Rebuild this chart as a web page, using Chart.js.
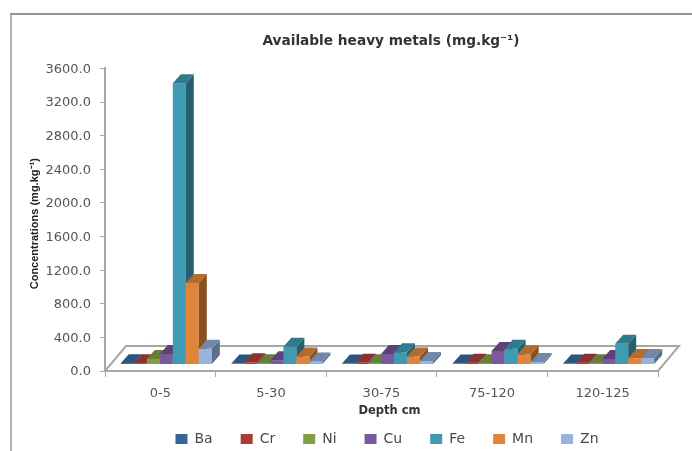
<!DOCTYPE html>
<html>
<head>
<meta charset="utf-8">
<style>
html,body{margin:0;padding:0;background:#fff;}
canvas{display:block;filter:blur(0.45px);}
</style>
<script src="https://cdn.jsdelivr.net/npm/chart.js@4"></script>
</head>
<body>
<canvas id="c" width="692" height="451"></canvas>
<script>
const categories = ['0-5','5-30','30-75','75-120','120-125'];
const Ba = [10,5,5,5,5];
const Cr = [10,20,15,15,15];
const Ni = [60,10,10,10,10];
const Cu = [120,45,120,155,60];
const Fe = [3340,205,140,180,240];
const Mn = [965,90,90,115,70];
const Zn = [180,30,35,25,70];
const yTicks = [0,400,800,1200,1600,2000,2400,2800,3200,3600];
const names = ['Ba','Cr','Ni','Cu','Fe','Mn','Zn'];
const values = [Ba,Cr,Ni,Cu,Fe,Mn,Zn];
const frontColors = ['#33659b','#a83c39','#7f9f42','#7b5a9c','#3f9ab3','#e0843a','#98b4de'];
const topColors   = ['#2b5583','#8a3230','#66803a','#5c4278','#2f7a8e','#b56a2e','#7088aa'];
const sideColors  = ['#1f3f63','#6a2624','#4e6329','#443159','#26606f','#8a5022','#5a6e8a'];

const BAR_DX = 8, BAR_DY = 9;       // extrusion of each bar
const FLOOR_DX = 21, FLOOR_DY = 25; // extrusion of the floor
const SHIFT_X = 6, SHIFT_Y = 7;     // front of bars sits inside the floor
const AXIS = '#a6a6a6';
const LEGEND_PAD = 28;
const SPAN = 3600, PLOT_H = 302, PLOT_W = 553, N = categories.length;

// move an axis title along its axis without moving the axis itself
function shiftTitle(scale, a, b, d) {
  if (scale.$shifted) return;
  scale.$shifted = true;
  const orig = scale.drawTitle;
  scale.drawTitle = function () {
    this[a] += d; this[b] += d;
    orig.call(this);
    this[a] -= d; this[b] -= d;
  };
}

const depthPlugin = {
  id: 'depth',
  afterLayout(chart) {
    const t = chart.titleBlock, l = chart.legend;
    t.left += 62; t.right += 62;
    l.left += 58; l.right += 58;
    l.top = 439 - LEGEND_PAD - 7; l.bottom = l.top + l.height;
    shiftTitle(chart.scales.x, 'left', 'right', 8);
    shiftTitle(chart.scales.y, 'top', 'bottom', 4);
  },
  beforeDraw(chart) {
    const c = chart.ctx;
    c.save();
    c.lineWidth = 2;
    c.strokeStyle = '#b4b4b4';
    c.beginPath(); c.moveTo(11, 14); c.lineTo(11, 451); c.stroke();
    c.strokeStyle = '#959595';
    c.beginPath(); c.moveTo(692, 14); c.lineTo(10, 14); c.stroke();
    c.restore();
  },
  beforeDatasetsDraw(chart) {
    const c = chart.ctx, a = chart.chartArea;
    c.save();
    c.fillStyle = '#fff';
    c.strokeStyle = AXIS;
    c.lineWidth = 2;
    c.beginPath();
    c.moveTo(a.left, a.bottom);
    c.lineTo(a.right, a.bottom);
    c.lineTo(a.right + FLOOR_DX, a.bottom - FLOOR_DY);
    c.lineTo(a.left + FLOOR_DX, a.bottom - FLOOR_DY);
    c.closePath();
    c.fill();
    c.stroke();
    // paint series left to right so that each bar overlaps the side of its neighbour
    names.forEach((n, i) => {
      const meta = chart.getDatasetMeta(i);
      meta.controller.draw();
      meta.data.forEach(b => {
        const p = b.getProps(['x','y','base','width'], true);
        const L = p.x - p.width / 2, R = p.x + p.width / 2;
        c.fillStyle = sideColors[i];
        c.beginPath();
        c.moveTo(R, p.y); c.lineTo(R + BAR_DX, p.y - BAR_DY);
        c.lineTo(R + BAR_DX, p.base - BAR_DY); c.lineTo(R, p.base);
        c.closePath(); c.fill();
        c.fillStyle = topColors[i];
        c.beginPath();
        c.moveTo(L, p.y); c.lineTo(L + BAR_DX, p.y - BAR_DY);
        c.lineTo(R + BAR_DX, p.y - BAR_DY); c.lineTo(R, p.y);
        c.closePath(); c.fill();
      });
    });
    c.restore();
    return false;
  }
};

new Chart(document.getElementById('c'), {
  type: 'bar',
  data: {
    labels: categories,
    datasets: names.map((n, i) => ({
      label: n,
      data: values[i].map((v, k) => ({ x: k, y: v })),
      xAxisID: 'x2',
      yAxisID: 'y2',
      backgroundColor: frontColors[i],
      borderWidth: 0,
      barPercentage: 1,
      categoryPercentage: 0.823
    }))
  },
  options: {
    responsive: false,
    animation: false,
    devicePixelRatio: 1,
    layout: { autoPadding: false, padding: { left: 0, right: 34, top: 0, bottom: -2 } },
    plugins: {
      tooltip: { enabled: false },
      title: {
        display: true,
        text: 'Available heavy metals (mg.kg⁻¹)',
        color: '#333',
        font: { family: 'DejaVu Sans', size: 13.7, weight: 'bold' },
        padding: { top: 33, bottom: 19 }
      },
      legend: {
        display: true,
        position: 'bottom',
        labels: {
          boxWidth: 12,
          boxHeight: 10,
          padding: LEGEND_PAD,
          color: '#4a4a4a',
          font: { family: 'DejaVu Sans', size: 14 }
        }
      }
    },
    scales: {
      x: {
        type: 'category',
        position: 'bottom',
        offset: true,
        afterFit(s) { s.height = 30; },
        border: { color: AXIS, width: 2 },
        grid: { drawOnChartArea: false, drawTicks: true, tickLength: 6, color: AXIS, offset: true },
        ticks: { color: '#555', maxRotation: 0, autoSkip: false, padding: 9, font: { family: 'DejaVu Sans', size: 13 } },
        title: {
          display: true,
          text: 'Depth cm',
          color: '#333',
          font: { family: 'DejaVu Sans', size: 11.5, weight: 'bold' },
          padding: { top: 0, bottom: -17 }
        }
      },
      y: {
        type: 'linear',
        position: 'left',
        min: 0,
        max: SPAN,
        afterFit(s) { s.width = 105; },
        afterBuildTicks(s) { s.ticks = yTicks.map(v => ({ value: v })); },
        border: { color: AXIS, width: 2 },
        grid: { drawOnChartArea: false, drawTicks: true, tickLength: 5, color: AXIS },
        ticks: {
          color: '#555',
          padding: 9,
          labelOffset: 1,
          font: { family: 'DejaVu Sans', size: 13 },
          callback: v => v.toFixed(1)
        },
        title: {
          display: true,
          text: 'Concentrations (mg.kg⁻¹)',
          color: '#222',
          font: { family: 'Liberation Sans', size: 11, weight: 'bold' },
          padding: { top: 28, bottom: 0 }
        }
      },
      x2: {
        type: 'linear',
        display: false,
        offset: false,
        min: -0.5 - SHIFT_X * N / PLOT_W,
        max: N - 0.5 - SHIFT_X * N / PLOT_W
      },
      y2: {
        type: 'linear',
        display: false,
        min: -SHIFT_Y * SPAN / PLOT_H,
        max: SPAN - SHIFT_Y * SPAN / PLOT_H
      }
    }
  },
  plugins: [depthPlugin]
});
</script>
</body>
</html>
